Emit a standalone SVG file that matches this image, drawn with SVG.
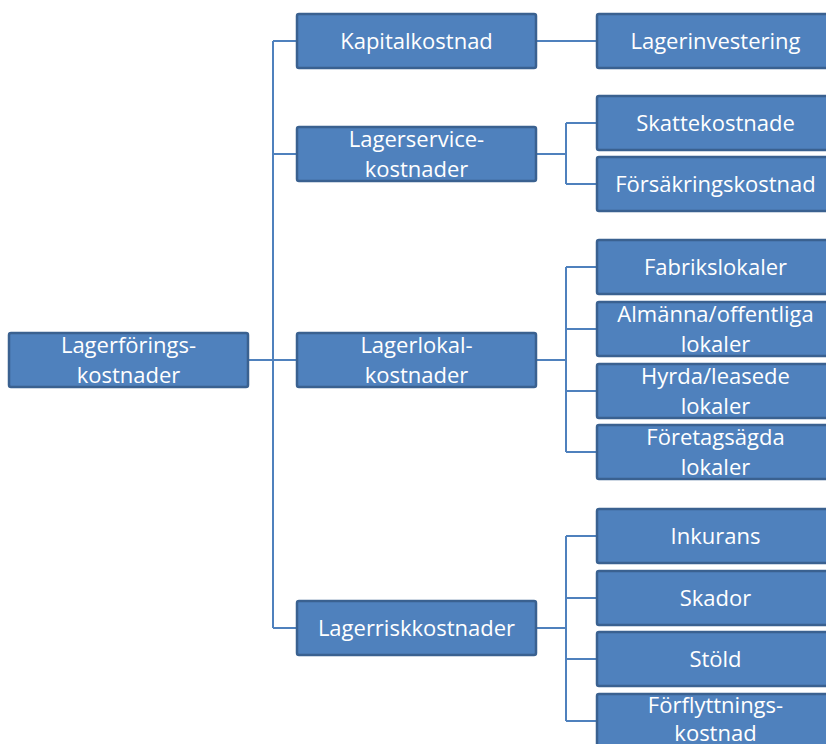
<svg xmlns="http://www.w3.org/2000/svg" width="826" height="744" viewBox="0 0 826 744">
<style>
.box{fill:#4F81BD;stroke:#3A6190;stroke-width:2.5}
.t{fill:#FFFFFF;font-family:"Open Sans","Noto Sans",sans-serif;font-size:22px;text-anchor:middle}
.c{fill:none;stroke:#4F81BD;stroke-width:2}
</style>
<rect width="826" height="744" fill="#FFFFFF"/>
<g id="connectors">
<path class="c" d="M248,360 H273 M273,41 V628 M273,41 H297 M273,154 H297 M273,360 H297 M273,628 H297"/>
<path class="c" d="M536,41 H597"/>
<path class="c" d="M536,154 H566 M566,123 V184 M566,123 H597 M566,184 H597"/>
<path class="c" d="M536,360 H566 M566,267 V452 M566,267 H597 M566,329 H597 M566,391 H597 M566,452 H597"/>
<path class="c" d="M536,628 H566 M566,536 V721 M566,536 H597 M566,598 H597 M566,659 H597 M566,721 H597"/>
</g>
<g id="root"><rect class="box" x="9" y="333" width="239" height="54" rx="2"/><text class="t" x="128.5" y="353">Lagerförings-</text><text class="t" x="128.5" y="383">kostnader</text></g>
<g id="kapitalkostnad"><rect class="box" x="297" y="14" width="239" height="54" rx="2"/><text class="t" x="416.5" y="49">Kapitalkostnad</text></g>
<g id="lagerservice"><rect class="box" x="297" y="127" width="239" height="54" rx="2"/><text class="t" x="416.5" y="147">Lagerservice-</text><text class="t" x="416.5" y="177">kostnader</text></g>
<g id="lagerlokal"><rect class="box" x="297" y="333" width="239" height="54" rx="2"/><text class="t" x="416.5" y="353">Lagerlokal-</text><text class="t" x="416.5" y="383">kostnader</text></g>
<g id="lagerrisk"><rect class="box" x="297" y="601" width="239" height="54" rx="2"/><text class="t" x="416.5" y="636">Lagerriskkostnader</text></g>
<g id="lagerinvestering"><rect class="box" x="597" y="14" width="237" height="54" rx="2"/><text class="t" x="715.5" y="49">Lagerinvestering</text></g>
<g id="skattekostnade"><rect class="box" x="597" y="96" width="237" height="54" rx="2"/><text class="t" x="715.5" y="131">Skattekostnade</text></g>
<g id="forsakring"><rect class="box" x="597" y="157" width="237" height="54" rx="2"/><text class="t" x="715.5" y="192">Försäkringskostnad</text></g>
<g id="fabrikslokaler"><rect class="box" x="597" y="240" width="237" height="54" rx="2"/><text class="t" x="715.5" y="275">Fabrikslokaler</text></g>
<g id="almanna"><rect class="box" x="597" y="302" width="237" height="54" rx="2"/><text class="t" x="715.5" y="322">Almänna/offentliga</text><text class="t" x="715.5" y="352">lokaler</text></g>
<g id="hyrda"><rect class="box" x="597" y="364" width="237" height="54" rx="2"/><text class="t" x="715.5" y="384">Hyrda/leasede</text><text class="t" x="715.5" y="414">lokaler</text></g>
<g id="foretagsagda"><rect class="box" x="597" y="425" width="237" height="54" rx="2"/><text class="t" x="715.5" y="445">Företagsägda</text><text class="t" x="715.5" y="475">lokaler</text></g>
<g id="inkurans"><rect class="box" x="597" y="509" width="237" height="54" rx="2"/><text class="t" x="715.5" y="544">Inkurans</text></g>
<g id="skador"><rect class="box" x="597" y="571" width="237" height="54" rx="2"/><text class="t" x="715.5" y="606">Skador</text></g>
<g id="stold"><rect class="box" x="597" y="632" width="237" height="54" rx="2"/><text class="t" x="715.5" y="667">Stöld</text></g>
<g id="forflyttning"><rect class="box" x="597" y="694" width="237" height="54" rx="2"/><text class="t" x="715.5" y="713">Förflyttnings-</text><text class="t" x="715.5" y="741">kostnad</text></g>
</svg>
